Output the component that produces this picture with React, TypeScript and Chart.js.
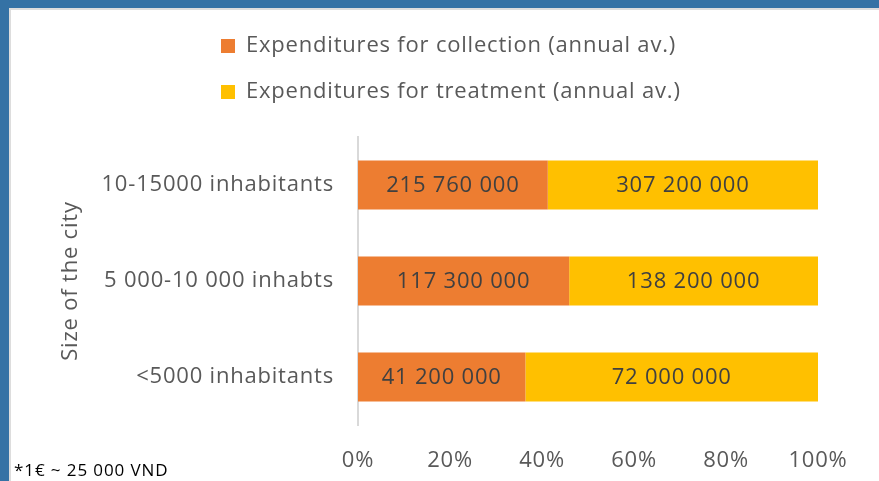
import React, { useEffect, useRef } from "react";
import { Chart, registerables } from "chart.js";

Chart.register(...registerables);

const categories = ["10-15000 inhabitants", "5 000-10 000 inhabts", "<5000 inhabitants"];
const collection = [215760000, 117300000, 41200000];
const treatment = [307200000, 138200000, 72000000];
const seriesNames = [
  "Expenditures for collection (annual av.)",
  "Expenditures for treatment (annual av.)",
];
const xTicks = [0, 20, 40, 60, 80, 100];
const axisTitle = "Size of the city";
const footnote = "*1€ ~ 25 000 VND";

const FONT = "'Open Sans', sans-serif";
const GREY = "#595959";
const SPACING = "0.8px";

function pct(a: number[], b: number[], i: number) {
  return (a[i] / (a[i] + b[i])) * 100;
}

function fmt(v: number) {
  return String(v).replace(/\B(?=(\d{3})+(?!\d))/g, " ");
}

export default function App() {
  const ref = useRef<HTMLCanvasElement | null>(null);

  useEffect(() => {
    if (!ref.current) return;
    const rawSets = [collection, treatment];

    const spacingPlugin = {
      id: "letterSpacing",
      beforeUpdate(chart: any) {
        chart.ctx.letterSpacing = SPACING;
      },
      beforeLayout(chart: any) {
        chart.ctx.letterSpacing = SPACING;
      },
      beforeDraw(chart: any) {
        chart.ctx.letterSpacing = SPACING;
      },
      afterLayout(chart: any) {
        const lg = chart.legend;
        const w = lg.right - lg.left;
        lg.left = 197;
        lg.right = 197 + w;
      },
    };

    const labelPlugin = {
      id: "barLabels",
      afterDatasetsDraw(chart: any) {
        const ctx = chart.ctx;
        ctx.save();
        ctx.letterSpacing = SPACING;
        ctx.font = `22px ${FONT}`;
        ctx.fillStyle = "#404040";
        ctx.textAlign = "center";
        ctx.textBaseline = "middle";
        chart.data.datasets.forEach((ds: any, di: number) => {
          const meta = chart.getDatasetMeta(di);
          meta.data.forEach((bar: any, i: number) => {
            const cx = (bar.x + bar.base) / 2;
            ctx.fillText(fmt(rawSets[di][i]), cx, bar.y + 1);
          });
        });
        ctx.restore();
      },
    };

    const legendSpace = {
      id: "legendSpace",
      beforeInit(chart: any) {
        const orig = chart.legend.fit;
        chart.legend.fit = function () {
          orig.bind(chart.legend)();
          this.height += 24;
        };
      },
    };

    const chart = new Chart(ref.current, {
      type: "bar",
      data: {
        labels: categories,
        datasets: [
          {
            label: seriesNames[0],
            data: categories.map((_, i) => pct(collection, treatment, i)),
            backgroundColor: "#ED7D31",
            borderWidth: 0,
          },
          {
            label: seriesNames[1],
            data: categories.map((_, i) => pct(treatment, collection, i)),
            backgroundColor: "#FFC000",
            borderWidth: 0,
          },
        ],
      },
      options: {
        indexAxis: "y",
        animation: false,
        responsive: false,
        maintainAspectRatio: false,
        datasets: { bar: { categoryPercentage: 1, barPercentage: 0.51 } },
        layout: { padding: { left: 58, right: 61, top: 11, bottom: 8 } },
        plugins: {
          tooltip: { enabled: false },
          legend: {
            position: "top",
            align: "start",
            labels: {
              boxWidth: 14,
              boxHeight: 14,
              padding: 24,
              color: GREY,
              font: { family: FONT, size: 22 },
            },
          },
        },
        scales: {
          x: {
            stacked: true,
            min: 0,
            max: 100,
            afterBuildTicks(scale: any) {
              scale.ticks = xTicks.map((v) => ({ value: v }));
            },
            afterFit(scale: any) {
              scale.height = 481 - 8 - 425;
            },
            grid: { display: false, drawTicks: false },
            border: { display: false },
            ticks: {
              color: GREY,
              padding: 23,
              font: { family: FONT, size: 22 },
              callback: (v: any) => v + "%",
            },
          },
          y: {
            stacked: true,
            afterFit(scale: any) {
              scale.width = 358 - 58;
            },
            grid: { display: false },
            border: { display: true, color: "#D9D9D9", width: 2 },
            ticks: {
              color: GREY,
              padding: 16,
              font: { family: FONT, size: 22 },
            },
            title: {
              display: true,
              text: axisTitle,
              color: GREY,
              font: { family: FONT, size: 22, weight: "normal" },
              padding: { top: 0, bottom: 0 },
            },
          },
        },
      },
      plugins: [spacingPlugin, labelPlugin, legendSpace],
    } as any);

    return () => chart.destroy();
  }, []);

  return (
    <div style={{ position: "fixed", left: 0, top: 0, width: 879, height: 481, background: "#fff", overflow: "hidden" }}>
      <div style={{ position: "absolute", left: 0, top: 0, width: 879, height: 8, background: "#3572A5" }} />
      <div style={{ position: "absolute", left: 0, top: 0, width: 9, height: 481, background: "#3572A5" }} />
      <div style={{ position: "absolute", left: 9, top: 8, width: 870, height: 2, background: "#DDDDDD" }} />
      <div style={{ position: "absolute", left: 9, top: 8, width: 2, height: 473, background: "#DDDDDD" }} />
      <canvas ref={ref} width={879} height={481} style={{ position: "absolute", left: 0, top: 0 }} />
      <div
        style={{
          position: "absolute",
          left: 14,
          top: 458,
          fontFamily: FONT,
          fontSize: 17,
          letterSpacing: "0.9px",
          color: "#000",
          whiteSpace: "nowrap",
          lineHeight: "24px",
        }}
      >
        {footnote}
      </div>
    </div>
  );
}
